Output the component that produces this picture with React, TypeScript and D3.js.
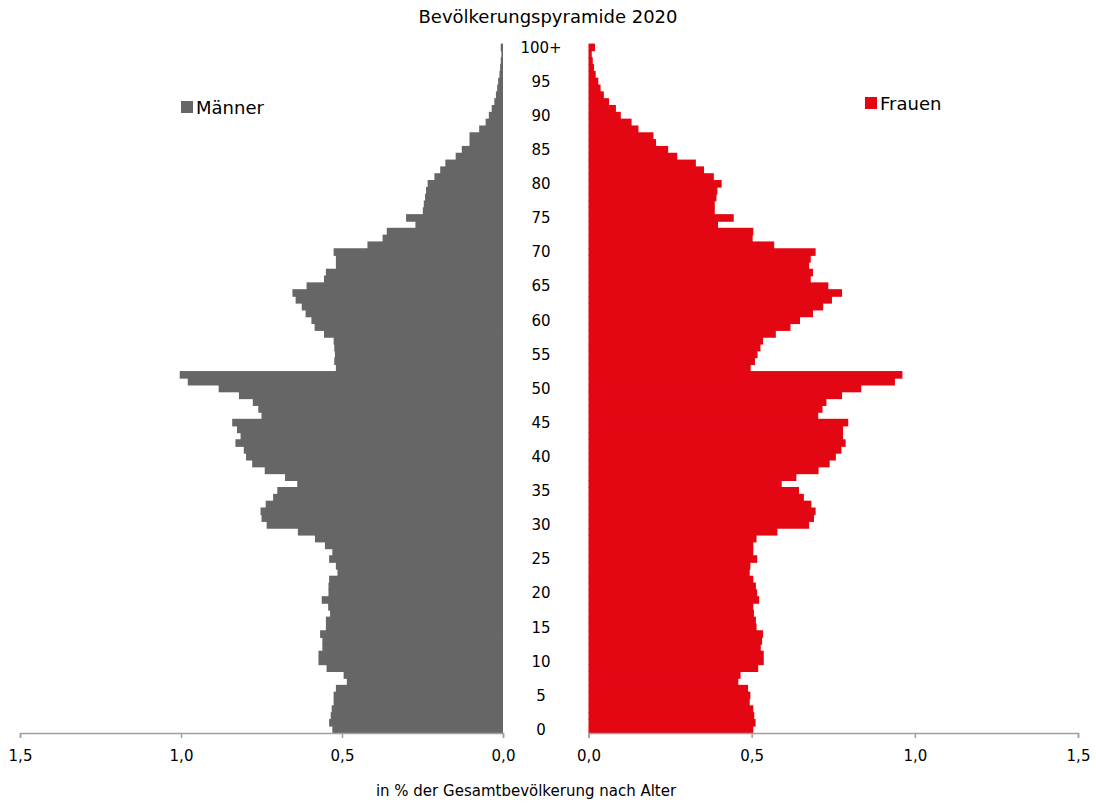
import React, { useEffect, useRef } from "react";
import * as d3 from "d3";

// Anteil an der Gesamtbevölkerung in %, Alter 0 .. 100+
const ages = d3.range(0, 101);
const maenner = [
  0.53, 0.54, 0.535, 0.532, 0.526, 0.526, 0.519, 0.485, 0.495, 0.548,
  0.573, 0.573, 0.561, 0.561, 0.568, 0.55, 0.55, 0.537, 0.543, 0.563,
  0.542, 0.542, 0.54, 0.514, 0.519, 0.54, 0.53, 0.553, 0.584, 0.637,
  0.734, 0.75, 0.753, 0.737, 0.714, 0.701, 0.639, 0.677, 0.74, 0.779,
  0.798, 0.805, 0.831, 0.815, 0.826, 0.841, 0.75, 0.76, 0.777, 0.82,
  0.883, 0.979, 1.004, 0.519, 0.524, 0.522, 0.524, 0.526, 0.556, 0.585,
  0.595, 0.613, 0.625, 0.644, 0.654, 0.61, 0.556, 0.55, 0.519, 0.519,
  0.526, 0.421, 0.374, 0.361, 0.272, 0.301, 0.249, 0.246, 0.242, 0.239,
  0.234, 0.213, 0.195, 0.179, 0.147, 0.128, 0.104, 0.104, 0.074, 0.054,
  0.044, 0.035, 0.027, 0.022, 0.018, 0.015, 0.011, 0.009, 0.007, 0.005,
  0.007,
];
const frauen = [
  0.505, 0.512, 0.508, 0.505, 0.494, 0.496, 0.489, 0.459, 0.466, 0.52,
  0.537, 0.537, 0.528, 0.532, 0.535, 0.515, 0.513, 0.507, 0.505, 0.523,
  0.517, 0.513, 0.505, 0.494, 0.496, 0.517, 0.505, 0.505, 0.515, 0.579,
  0.676, 0.691, 0.696, 0.683, 0.66, 0.645, 0.592, 0.637, 0.705, 0.739,
  0.758, 0.775, 0.788, 0.78, 0.78, 0.796, 0.704, 0.717, 0.729, 0.777,
  0.836, 0.939, 0.962, 0.497, 0.51, 0.518, 0.527, 0.535, 0.574, 0.619,
  0.648, 0.688, 0.719, 0.746, 0.777, 0.735, 0.681, 0.688, 0.676, 0.681,
  0.696, 0.569, 0.503, 0.505, 0.397, 0.445, 0.387, 0.387, 0.392, 0.395,
  0.408, 0.384, 0.354, 0.329, 0.272, 0.244, 0.207, 0.199, 0.153, 0.132,
  0.099, 0.084, 0.063, 0.047, 0.037, 0.03, 0.022, 0.017, 0.013, 0.01,
  0.02,
];
const ageTicks = [0, 5, 10, 15, 20, 25, 30, 35, 40, 45, 50, 55, 60, 65, 70, 75, 80, 85, 90, 95, 100];
const valueTicks = [0, 0.5, 1.0, 1.5];

const W = 1096;
const H = 804;
const GREY = "#666666";
const RED = "#e30613";
const FONT = "'DejaVu Sans', Verdana, sans-serif";

export default function App() {
  const ref = useRef<SVGSVGElement>(null);

  useEffect(() => {
    const svg = d3.select(ref.current);
    svg.selectAll("*").remove();

    const axisY = 733;
    const y = d3.scaleBand<number>().domain(ages).range([axisY, 44]).padding(0);
    const xL = d3.scaleLinear().domain([0, 1.5]).range([503, 20]);
    const xR = d3.scaleLinear().domain([0, 1.5]).range([588.5, 1078]);

    // bars (slight overlap so no seams show between the age rows)
    svg.append("g")
      .selectAll("rect")
      .data(ages)
      .enter()
      .append("rect")
      .attr("x", (d) => xL(maenner[d]))
      .attr("y", (d) => y(d)! - 0.4)
      .attr("width", (d) => xL(0) - xL(maenner[d]))
      .attr("height", y.bandwidth() + 0.8)
      .attr("fill", GREY);

    svg.append("g")
      .selectAll("rect")
      .data(ages)
      .enter()
      .append("rect")
      .attr("x", xR(0))
      .attr("y", (d) => y(d)! - 0.4)
      .attr("width", (d) => xR(frauen[d]) - xR(0))
      .attr("height", y.bandwidth() + 0.8)
      .attr("fill", RED);

    // value axes
    const fmt = (d: d3.NumberValue) => d3.format(".1f")(+d).replace(".", ",");
    const drawAxis = (scale: d3.ScaleLinear<number, number>) => {
      const g = svg.append("g")
        .attr("transform", "translate(0," + axisY + ")")
        .call(d3.axisBottom(scale).tickValues(valueTicks).tickFormat(fmt).tickSizeOuter(0).tickSize(5));
      g.select(".domain").attr("stroke", "#a0a0a0").attr("stroke-width", 1.5);
      g.selectAll(".tick line").attr("stroke", "#a0a0a0").attr("stroke-width", 1.5);
      g.selectAll(".tick text")
        .attr("y", 17)
        .attr("fill", "#000")
        .style("font-family", FONT)
        .style("font-size", "15px");
    };
    drawAxis(xL);
    drawAxis(xR);

    // age labels
    svg.append("g")
      .selectAll("text")
      .data(ageTicks)
      .enter()
      .append("text")
      .attr("x", 541)
      .attr("y", (d) => y(d)! + y.bandwidth() / 2)
      .attr("dy", "0.35em")
      .attr("text-anchor", "middle")
      .style("font-family", FONT)
      .style("font-size", "15px")
      .text((d) => (d === 100 ? "100+" : String(d)));

    // title
    svg.append("text")
      .text("Bevölkerungspyramide 2020")
      .attr("x", 548)
      .attr("y", 23)
      .attr("text-anchor", "middle")
      .style("font-family", FONT)
      .style("font-size", "18px");

    svg.append("text")
      .text("in % der Gesamtbevölkerung nach Alter")
      .attr("x", 526)
      .attr("y", 796)
      .attr("text-anchor", "middle")
      .style("font-family", FONT)
      .style("font-size", "15px");

    // legends
    const legend = [
      { name: "Männer", color: GREY, x: 181, y: 101 },
      { name: "Frauen", color: RED, x: 865, y: 97 },
    ];
    const lg = svg.append("g").selectAll("g").data(legend).enter().append("g");
    lg.append("rect")
      .attr("x", (d) => d.x)
      .attr("y", (d) => d.y)
      .attr("width", 12)
      .attr("height", 12)
      .attr("fill", (d) => d.color);
    lg.append("text")
      .attr("x", (d) => d.x + 15)
      .attr("y", (d) => d.y + 13)
      .style("font-family", FONT)
      .style("font-size", "18px")
      .text((d) => d.name);
  }, []);

  return (
    <svg
      ref={ref}
      width={W}
      height={H}
      viewBox={"0 0 " + W + " " + H}
      style={{ position: "absolute", left: 0, top: 0, background: "#fff" }}
    />
  );
}
